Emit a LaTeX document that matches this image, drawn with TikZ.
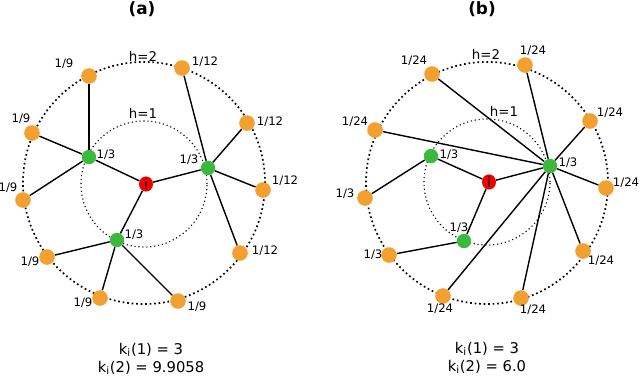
\documentclass[tikz,border=0pt]{standalone}
\usepackage{fontspec}
\setmainfont{DejaVu Sans}
\usetikzlibrary{shapes.geometric}
\definecolor{nodeorange}{RGB}{242,160,48}
\definecolor{nodegreen}{RGB}{58,185,60}
\definecolor{nodered}{RGB}{236,0,0}
\begin{document}
\begin{tikzpicture}[x=0.025cm, y=-0.025cm,
  every node/.style={font=\fontsize{8.3}{9}\selectfont, inner sep=1pt},
  leaf/.style={circle, fill=nodeorange, minimum size=0.39cm, inner sep=0pt},
  hub/.style={circle, fill=nodegreen, minimum size=0.36cm, inner sep=0pt},
  root/.style={ellipse, fill=nodered, minimum width=0.35cm, minimum height=0.38cm, inner sep=0pt, text=black, font=\fontsize{10}{10}\selectfont},
  link/.style={line width=1pt},
  ring/.style={line width=1.2pt, dotted},
  innerring/.style={line width=0.8pt, dotted},
  hlabel/.style={font=\fontsize{9.5}{10}\selectfont},
  title/.style={font=\fontsize{12}{14}\selectfont\bfseries},
  degree/.style={font=\fontsize{10.5}{12.8}\selectfont, align=center}]
  \useasboundingbox (0,0) rectangle (640,377);
  % ---------------- panel (a) ----------------
  \node[title] (ta) at (142,9) {(a)};
  \draw[ring] (144,183) circle (3.025cm);
  \draw[innerring] (144,184) circle (1.575cm);
  \node[hlabel] (h2a) at (143,56) {h=2};
  \node[hlabel] (h1a) at (143,113) {h=1};
  % centre and first shell
  \node[root] (ia) at (146,184) {i};
  \node[hub] (g1a) at (89,157) {};
  \node[hub] (g2a) at (208,168) {};
  \node[hub] (g3a) at (117,240) {};
  % second shell
  \node[leaf] (o1a) at (89,76) {};
  \node[leaf] (o2a) at (32,133) {};
  \node[leaf] (o3a) at (23,200) {};
  \node[leaf] (o4a) at (47,257) {};
  \node[leaf] (o5a) at (100,298) {};
  \node[leaf] (o6a) at (178,301) {};
  \node[leaf] (o7a) at (240,253) {};
  \node[leaf] (o8a) at (263,190) {};
  \node[leaf] (o9a) at (247,123) {};
  \node[leaf] (o10a) at (182,68) {};
  % links
  \foreach \g in {g1a,g2a,g3a} \draw[link] (ia) -- (\g);
  \foreach \o in {o1a,o2a,o3a} \draw[link] (g1a) -- (\o);
  \foreach \o in {o4a,o5a,o6a} \draw[link] (g3a) -- (\o);
  \foreach \o in {o7a,o8a,o9a,o10a} \draw[link] (g2a) -- (\o);
  % weights
  \node (w1a) at (106,155) {1/3};
  \node (w2a) at (189,160) {1/3};
  \node (w3a) at (134,235) {1/3};
  \node (l1a) at (64,64) {1/9};
  \node (l2a) at (21,119) {1/9};
  \node (l3a) at (8,188) {1/9};
  \node (l4a) at (30,262) {1/9};
  \node (l5a) at (83,303) {1/9};
  \node (l6a) at (197,307) {1/9};
  \node (l7a) at (265,251) {1/12};
  \node (l8a) at (285,181) {1/12};
  \node (l9a) at (270,122) {1/12};
  \node (l10a) at (205,62) {1/12};
  \node[degree] (ka) at (151,359) {k\textsubscript{i}(1) = 3\\k\textsubscript{i}(2) = 9.9058};
  % ---------------- panel (b) ----------------
  \node[title] (tb) at (482,9) {(b)};
  \draw[ring] (487,183) circle (3.025cm);
  \draw[innerring] (487,182) circle (1.575cm);
  \node[hlabel] (h2b) at (486,54) {h=2};
  \node[hlabel] (h1b) at (504,111) {h=1};
  % centre and first shell
  \node[root] (ib) at (489,182) {i};
  \node[hub] (g1b) at (431,156) {};
  \node[hub] (g2b) at (550,166) {};
  \node[hub] (g3b) at (464,241) {};
  % second shell
  \node[leaf] (o1b) at (432,74) {};
  \node[leaf] (o2b) at (375,130) {};
  \node[leaf] (o3b) at (365,198) {};
  \node[leaf] (o4b) at (389,255) {};
  \node[leaf] (o5b) at (443,296) {};
  \node[leaf] (o6b) at (521,298) {};
  \node[leaf] (o7b) at (583,251) {};
  \node[leaf] (o8b) at (606,188) {};
  \node[leaf] (o9b) at (590,121) {};
  \node[leaf] (o10b) at (525,65) {};
  % links
  \foreach \g in {g1b,g2b,g3b} \draw[link] (ib) -- (\g);
  \draw[link] (g1b) -- (o3b);
  \draw[link] (g3b) -- (o4b);
  \foreach \o in {o1b,o2b,o5b,o6b,o7b,o8b,o9b,o10b} \draw[link] (g2b) -- (\o);
  % weights
  \node (w1b) at (449,155) {1/3};
  \node (w2b) at (568,163) {1/3};
  \node (w3b) at (459,228) {1/3};
  \node (l1b) at (414,61) {1/24};
  \node (l2b) at (355,122) {1/24};
  \node (l3b) at (345,194) {1/3};
  \node (l4b) at (373,255) {1/3};
  \node (l5b) at (440,309) {1/24};
  \node (l6b) at (533,310) {1/24};
  \node (l7b) at (601,261) {1/24};
  \node (l8b) at (626,183) {1/24};
  \node (l9b) at (610,113) {1/24};
  \node (l10b) at (533,51) {1/24};
  \node[degree] (kb) at (487,358) {k\textsubscript{i}(1) = 3\\k\textsubscript{i}(2) = 6.0};
\end{tikzpicture}
\end{document}
